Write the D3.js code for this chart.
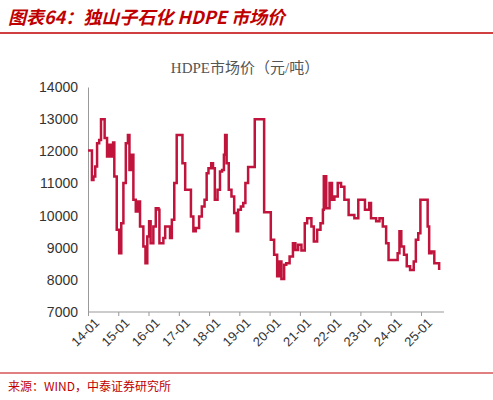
<!DOCTYPE html><html><head><meta charset="utf-8"><script src="https://cdn.jsdelivr.net/npm/d3@7"></script>
<style>body{margin:0;background:#fff}</style></head><body><svg id="c" width="493" height="400"></svg><script>
const years=[2014.0,2014.05,2014.13,2014.18,2014.24,2014.30,2014.37,2014.43,2014.52,2014.55,2014.63,2014.70,2014.77,2014.83,2014.87,2014.95,2015.03,2015.10,2015.17,2015.25,2015.32,2015.37,2015.43,2015.50,2015.58,2015.65,2015.72,2015.83,2015.90,2015.96,2016.02,2016.07,2016.16,2016.24,2016.33,2016.36,2016.49,2016.55,2016.63,2016.71,2016.77,2016.85,2016.93,2017.04,2017.12,2017.21,2017.32,2017.40,2017.48,2017.56,2017.67,2017.76,2017.85,2017.92,2017.98,2018.07,2018.13,2018.19,2018.28,2018.36,2018.43,2018.49,2018.53,2018.58,2018.65,2018.74,2018.83,2018.91,2018.96,2019.05,2019.13,2019.20,2019.29,2019.45,2019.51,2019.78,2019.82,2019.97,2020.04,2020.15,2020.25,2020.31,2020.39,2020.48,2020.55,2020.66,2020.77,2020.85,2020.94,2021.05,2021.16,2021.24,2021.38,2021.46,2021.57,2021.68,2021.76,2021.79,2021.87,2021.98,2022.06,2022.14,2022.25,2022.36,2022.47,2022.61,2022.80,2022.93,2023.08,2023.15,2023.29,2023.35,2023.52,2023.63,2023.74,2023.85,2023.93,2024.06,2024.17,2024.23,2024.29,2024.35,2024.44,2024.53,2024.64,2024.76,2024.83,2024.91,2024.98,2025.17,2025.22,2025.27,2025.35,2025.44,2025.60];
const prices=[12025,12025,11110,11215,11530,12250,12350,13000,13000,12410,11840,12200,11840,12270,11215,9560,8830,9760,11010,12250,12510,11420,11890,10490,10130,10440,9660,9040,8520,9350,9820,9140,9660,10230,10180,9140,9300,9660,9660,9300,9870,11010,12510,12510,11630,10800,10800,9970,9510,9610,9970,10280,10490,11320,11470,11630,11470,10490,10800,11370,11420,11890,12510,11630,10800,10590,10080,9510,10180,10280,10390,11010,11510,11510,13000,13000,10100,10100,9250,8780,8110,8570,8030,8470,8520,8730,9140,8930,9090,8910,9760,9920,9660,9190,9560,9760,10180,11220,10230,11010,10490,10590,11010,10900,10490,10020,9920,10490,10490,10180,10390,9920,9820,9920,9660,9140,8620,8620,8620,8830,9510,9040,8780,8420,8310,8570,9250,9450,10490,10490,9660,8830,8880,8520,8310];
const yTicks=[7000,8000,9000,10000,11000,12000,13000,14000];
const xTickYears=[2014,2015,2016,2017,2018,2019,2020,2021,2022,2023,2024,2025];
const toDate=y=>{const yr=Math.floor(y);const s=new Date(yr,0,1),e=new Date(yr+1,0,1);return new Date(+s+(y-yr)*(e-s));};
const svg=d3.select("#c");
svg.append("text").attr("x",8).attr("y",24).attr("fill","#C00000").attr("font-family","Noto Sans CJK SC").attr("font-size",18).attr("font-weight","bold").attr("font-style","italic").text("图表64：独山子石化 HDPE 市场价");
svg.append("line").attr("x1",0).attr("x2",493).attr("y1",33).attr("y2",33).attr("stroke","#C00000").attr("stroke-width",1.5);
svg.append("text").attr("x",245).attr("y",73).attr("text-anchor","middle").attr("fill","#555").attr("font-family","Liberation Serif, Noto Sans CJK SC").attr("font-size",15).text("HDPE市场价（元/吨）");
const x=d3.scaleTime().domain([toDate(2014),toDate(2025)]).range([88,421]);
const y=d3.scaleLinear().domain([7000,14000]).range([312,87]);
const ya=svg.append("g").attr("transform","translate(88,0)").call(d3.axisLeft(y).tickValues(yTicks).tickSize(0).tickPadding(10).tickFormat(d3.format("d")));
ya.select(".domain").attr("stroke","#999");
ya.selectAll("text").attr("font-family","Liberation Sans").attr("font-size",14).attr("fill","#333");
svg.append("line").attr("x1",88).attr("x2",444).attr("y1",312).attr("y2",312).attr("stroke","#999");
const xa=svg.append("g").attr("transform","translate(0,312)").call(d3.axisBottom(x).tickValues(xTickYears.map(toDate)).tickSize(4).tickFormat(d=>d3.timeFormat("%y-%m")(d)));
xa.select(".domain").remove();xa.selectAll("line").attr("stroke","#999");
xa.selectAll("text").attr("font-family","Liberation Sans").attr("font-size",13).attr("fill","#333").attr("text-anchor","end").attr("transform","translate(4,4) rotate(-45)").attr("dy","0.3em").attr("dx","0");
const data=years.map((v,i)=>({d:toDate(v),v:prices[i]}));
svg.append("path").datum(data).attr("fill","none").attr("stroke","#C0143C").attr("stroke-width",2.5).attr("d",d3.line().x(d=>x(d.d)).y(d=>y(d.v)).curve(d3.curveStepAfter));
svg.append("line").attr("x1",0).attr("x2",493).attr("y1",373).attr("y2",373).attr("stroke","#C00000").attr("stroke-width",1);
svg.append("text").attr("x",8).attr("y",391).attr("fill","#C00000").attr("font-family","Noto Sans CJK SC").attr("font-size",12).text("来源：WIND，中泰证券研究所");
</script></body></html>
